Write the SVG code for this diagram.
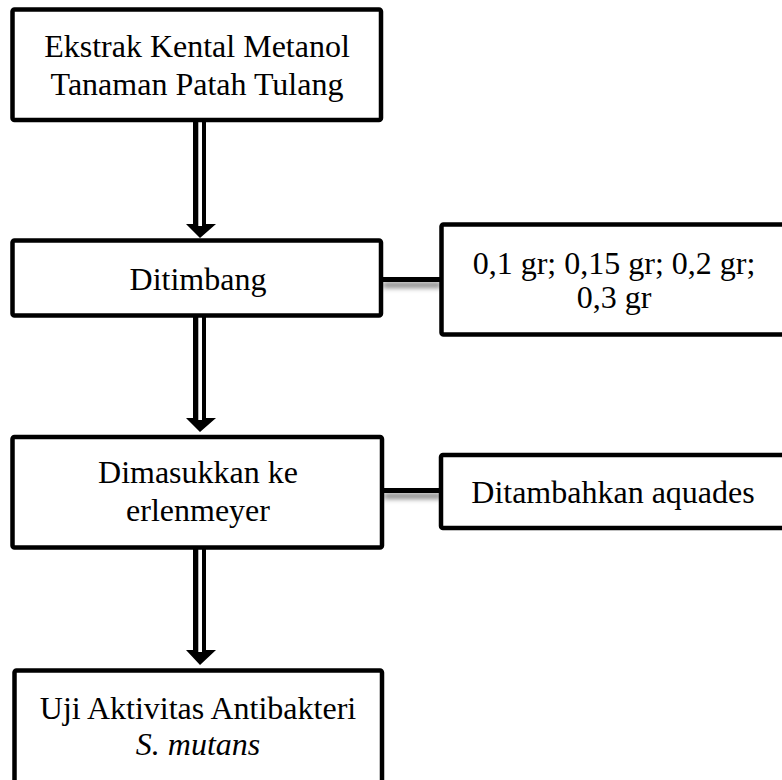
<svg xmlns="http://www.w3.org/2000/svg" width="782" height="780" viewBox="0 0 782 780">
<defs>
<style>
.box{fill:#fff;stroke:#000;stroke-width:4.5}
.t{font-family:"Liberation Serif","Times New Roman",serif;font-size:32px;fill:#000;text-anchor:middle}
.i{font-style:italic}
.line{stroke:#000;stroke-width:5}
.shadow{fill:#888}
</style>
<filter id="blur" x="-20%" y="-100%" width="140%" height="300%"><feGaussianBlur stdDeviation="2.5"/></filter>
</defs>
<rect width="782" height="780" fill="#fff"/>
<g id="connectors">
  <g id="arrow1">
    <polygon points="193,120 206,120 206,224 216,224 200,238 186,224 193,224" fill="#000"/>
    <rect x="198.3" y="120" width="3.7" height="106" fill="#fff"/>
  </g>
  <g id="arrow2">
    <polygon points="193,316 206,316 206,418 216,418 200,432 186,418 193,418" fill="#000"/>
    <rect x="198.3" y="316" width="3.7" height="104" fill="#fff"/>
  </g>
  <g id="arrow3">
    <polygon points="193,548 206,548 206,650 216,650 200,665 186,650 193,650" fill="#000"/>
    <rect x="198.3" y="548" width="3.7" height="104" fill="#fff"/>
  </g>
  <g id="link1">
    <rect class="shadow" x="383" y="282" width="58" height="6" filter="url(#blur)"/>
    <line class="line" x1="381" y1="279.5" x2="442" y2="279.5"/>
  </g>
  <g id="link2">
    <rect class="shadow" x="384" y="493" width="57" height="6" filter="url(#blur)"/>
    <line class="line" x1="382" y1="490.5" x2="442" y2="490.5"/>
  </g>
</g>
<g id="n1">
  <rect class="box" x="12.5" y="9.5" width="368.5" height="110.5" rx="2"/>
  <text class="t" x="197" y="57">Ekstrak Kental Metanol</text>
  <text class="t" x="197" y="95">Tanaman Patah Tulang</text>
</g>
<g id="n2">
  <rect class="box" x="12.5" y="240.5" width="368.5" height="75" rx="2"/>
  <text class="t" x="198" y="290">Ditimbang</text>
</g>
<g id="n3">
  <rect class="box" x="441.5" y="224.5" width="400" height="110" rx="2"/>
  <text class="t" x="614" y="274">0,1 gr; 0,15 gr; 0,2 gr;</text>
  <text class="t" x="614" y="308">0,3 gr</text>
</g>
<g id="n4">
  <rect class="box" x="12.5" y="437" width="369.5" height="110.5" rx="2"/>
  <text class="t" x="198" y="483">Dimasukkan ke</text>
  <text class="t" x="198" y="521">erlenmeyer</text>
</g>
<g id="n5">
  <rect class="box" x="441" y="455" width="400" height="73" rx="2"/>
  <text class="t" x="613" y="503">Ditambahkan aquades</text>
</g>
<g id="n6">
  <rect class="box" x="14.5" y="670.5" width="367.5" height="150" rx="2"/>
  <text class="t" x="198" y="719">Uji Aktivitas Antibakteri</text>
  <text class="t i" x="198" y="755">S. mutans</text>
</g>
</svg>
